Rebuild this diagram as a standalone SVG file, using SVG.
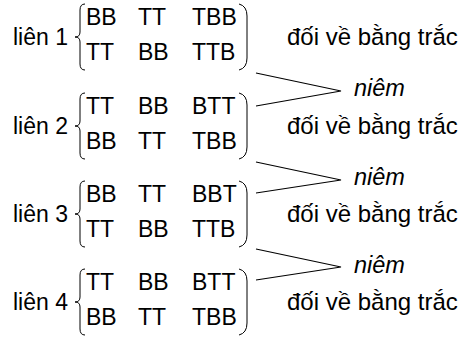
<svg xmlns="http://www.w3.org/2000/svg" width="461" height="342" viewBox="0 0 461 342">
<style>
text{font-family:"Liberation Sans",Arial,sans-serif;font-size:23px;fill:#000}
.it{font-style:italic;font-size:23.5px}
.dv{font-size:24px}
.br{fill:none;stroke:#000;stroke-width:1}
.ln{fill:none;stroke:#000;stroke-width:1.1}
</style>
<defs>
<path id="brace" class="br" d="M85 4 Q80 4 80 10 L80 32 Q80 37 75 37 Q80 37 80 42 L80 64 Q80 70 85 70"/>
<path id="paren" class="br" d="M239 4 Q247 6 247 16 L247 58 Q247 68 239 70"/>
</defs>
<g id="lien1">
<text x="13" y="45">liên 1</text>
<use href="#brace"/>
<text x="86" y="25">BB</text><text x="138" y="25">TT</text><text x="192" y="25">TBB</text>
<text x="86" y="60">TT</text><text x="138" y="60">BB</text><text x="192" y="60">TTB</text>
<use href="#paren"/>
<text class="dv" x="287" y="45">đối về bằng trắc</text>
</g>
<g id="lien2" transform="translate(0,89)">
<text x="13" y="45">liên 2</text>
<use href="#brace"/>
<text x="86" y="25">TT</text><text x="138" y="25">BB</text><text x="192" y="25">BTT</text>
<text x="86" y="60">BB</text><text x="138" y="60">TT</text><text x="192" y="60">TBB</text>
<use href="#paren"/>
<text class="dv" x="287" y="45">đối về bằng trắc</text>
</g>
<g id="lien3" transform="translate(0,177)">
<text x="13" y="45">liên 3</text>
<use href="#brace"/>
<text x="86" y="25">BB</text><text x="138" y="25">TT</text><text x="192" y="25">BBT</text>
<text x="86" y="60">TT</text><text x="138" y="60">BB</text><text x="192" y="60">TTB</text>
<use href="#paren"/>
<text class="dv" x="287" y="45">đối về bằng trắc</text>
</g>
<g id="lien4" transform="translate(0,265)">
<text x="13" y="45">liên 4</text>
<use href="#brace"/>
<text x="86" y="25">TT</text><text x="138" y="25">BB</text><text x="192" y="25">BTT</text>
<text x="86" y="60">BB</text><text x="138" y="60">TT</text><text x="192" y="60">TBB</text>
<use href="#paren"/>
<text class="dv" x="287" y="45">đối về bằng trắc</text>
</g>
<g id="niem1"><text class="it" x="354" y="96">niêm</text></g>
<g id="niem2"><text class="it" x="354" y="185">niêm</text></g>
<g id="niem3"><text class="it" x="354" y="273">niêm</text></g>
<g id="connectors">
<polyline class="ln" points="256,73 341,91 256,106"/>
<polyline class="ln" points="256,162 341,180 256,193"/>
<polyline class="ln" points="256,249 341,267 256,280"/>
</g>
</svg>
